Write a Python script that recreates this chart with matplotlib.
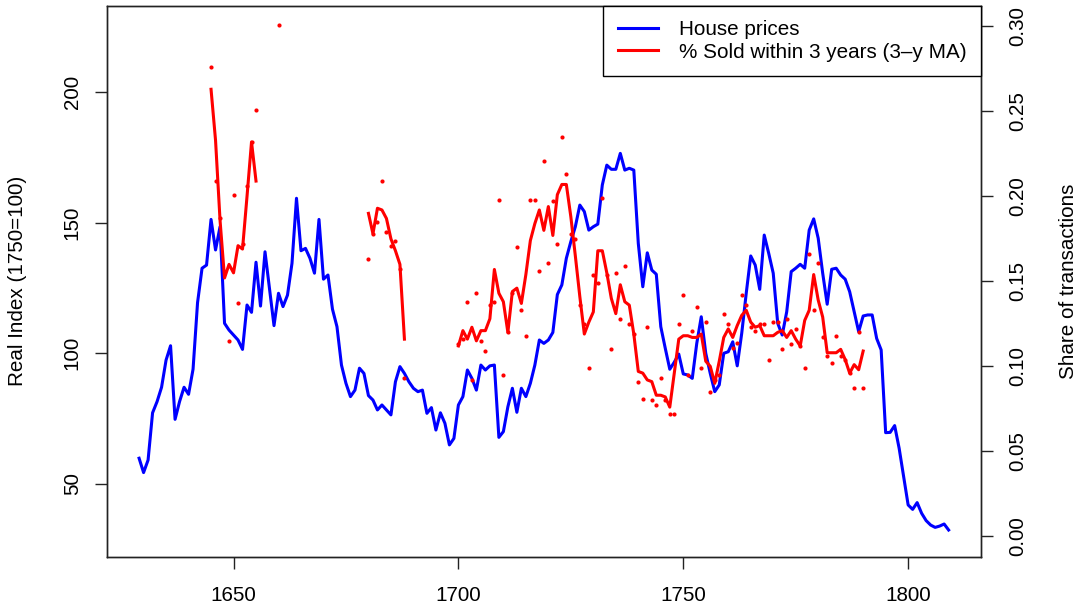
import numpy as np
import matplotlib
matplotlib.use("Agg")
import matplotlib.pyplot as plt

plt.rcParams['font.family'] = ['Liberation Sans', 'DejaVu Sans']

# ---------------- data ----------------
price_first_year = 1629
house_prices = [
    59.8, 54.3, 59.1, 77.2, 81.5, 87.0, 97.4, 102.9, 74.7, 81.5, 87.0,          # 1629-1639
    84.3, 93.9, 119.4, 132.6, 133.8, 151.3, 139.6, 148.5, 111.5, 108.9,         # 1640-1649
    107.0, 105.1, 101.5, 118.5, 115.7, 134.9, 118.1, 138.9, 124.6, 110.6,       # 1650-1659
    123.0, 117.9, 122.3, 134.5, 159.4, 139.3, 140.2, 136.4, 130.7, 151.3,       # 1660-1669
    128.4, 130.0, 116.9, 110.2, 95.5, 88.5, 83.4, 85.9, 94.3, 92.3,             # 1670-1679
    83.8, 82.1, 78.3, 80.2, 78.3, 76.4, 89.1, 94.9, 92.3, 89.1,                 # 1680-1689
    86.6, 85.3, 85.9, 77.0, 79.2, 70.6, 77.2, 73.2, 64.9, 67.4,                 # 1690-1699
    80.2, 83.4, 93.6, 90.4, 85.9, 95.5, 93.6, 95.2, 95.5, 67.8,                 # 1700-1709
    70.0, 79.5, 86.6, 77.4, 86.6, 83.4, 88.5, 95.5, 105.1, 103.8,               # 1710-1719
    105.1, 108.0, 122.5, 126.2, 136.4, 142.8, 148.5, 156.8, 154.3, 147.2,       # 1720-1729
    148.5, 149.5, 164.5, 172.1, 170.5, 170.5, 176.6, 170.2, 170.9, 170.2,       # 1730-1739
    142.1, 125.5, 138.5, 131.9, 130.3, 110.2, 101.9, 93.9, 96.6, 99.7,          # 1740-1749
    92.1, 91.7, 90.4, 103.8, 114.0, 100.0, 92.3, 85.3, 87.9, 100.0,             # 1750-1759
    100.6, 104.4, 95.2, 107.7, 123.0, 137.3, 133.8, 124.5, 145.3, 138.3,        # 1760-1769
    130.7, 111.5, 107.0, 115.9, 131.3, 132.6, 134.1, 132.6, 147.2, 151.5,       # 1770-1779
    144.1, 130.7, 118.8, 132.2, 132.6, 130.0, 128.4, 123.6, 115.9, 108.3,       # 1780-1789
    114.3, 114.7, 114.7, 105.7, 101.3, 69.6, 69.7, 72.3, 63.6, 52.7,            # 1790-1799
    41.9, 40.2, 42.8, 38.7, 35.9, 34.2, 33.3, 33.8, 34.6, 32.3,                 # 1800-1809
]

# 3-year moving average of share sold within 3 years (three separate runs)
ma_start_a = 1645
ma_run_a = [0.263, 0.233, 0.186, 0.152, 0.160, 0.155, 0.171, 0.169, 0.200, 0.232, 0.209]
ma_start_b = 1680
ma_run_b = [0.190, 0.178, 0.193, 0.192, 0.187, 0.175, 0.168, 0.160, 0.116]
ma_start_c = 1700
ma_run_c = [
    0.112, 0.121, 0.116, 0.123, 0.115, 0.121, 0.121, 0.128, 0.157, 0.143,       # 1700-1709
    0.138, 0.120, 0.144, 0.146, 0.137, 0.154, 0.174, 0.184, 0.192, 0.180,       # 1710-1719
    0.194, 0.177, 0.201, 0.207, 0.207, 0.188, 0.165, 0.141, 0.119, 0.126,       # 1720-1729
    0.132, 0.168, 0.168, 0.155, 0.140, 0.131, 0.148, 0.138, 0.136, 0.119,       # 1730-1739
    0.097, 0.096, 0.092, 0.091, 0.083, 0.083, 0.082, 0.076, 0.096, 0.116,       # 1740-1749
    0.118, 0.118, 0.117, 0.117, 0.119, 0.103, 0.100, 0.090, 0.103, 0.117,       # 1750-1759
    0.122, 0.117, 0.124, 0.130, 0.133, 0.126, 0.123, 0.124, 0.118, 0.118,       # 1760-1769
    0.118, 0.120, 0.121, 0.117, 0.121, 0.116, 0.112, 0.127, 0.133, 0.154,       # 1770-1779
    0.139, 0.129, 0.108, 0.108, 0.108, 0.110, 0.104, 0.096, 0.101, 0.098,       # 1780-1789
    0.109,                                                                      # 1790
]

# annual raw shares (dots)
share_years = [
    1645, 1646, 1647, 1649, 1650, 1651, 1652, 1653, 1654, 1655, 1660,
    1680, 1681, 1682, 1683, 1684, 1685, 1686, 1687, 1688,
    1700, 1701, 1702, 1703, 1704, 1705, 1706, 1707, 1708, 1709,
    1710, 1711, 1712, 1713, 1714, 1715, 1716, 1717, 1718, 1719,
    1720, 1721, 1722, 1723, 1724, 1725, 1726, 1727, 1728, 1729,
    1730, 1731, 1732, 1733, 1734, 1735, 1736, 1737, 1738, 1739,
    1740, 1741, 1742, 1743, 1744, 1745, 1746, 1747, 1748, 1749,
    1750, 1751, 1752, 1753, 1754, 1755, 1756, 1757, 1758, 1759,
    1760, 1761, 1762, 1763, 1764, 1765, 1766, 1767, 1768, 1769,
    1770, 1771, 1772, 1773, 1774, 1775, 1776, 1777, 1778, 1779,
    1780, 1781, 1782, 1783, 1784, 1785, 1786, 1787, 1788, 1789, 1790,
]
share_values = [
    0.276, 0.209, 0.187, 0.115, 0.201, 0.137, 0.172, 0.206, 0.232, 0.251, 0.301,
    0.163, 0.178, 0.185, 0.209, 0.179, 0.171, 0.174, 0.157, 0.093,
    0.113, 0.116, 0.138, 0.092, 0.143, 0.115, 0.109, 0.136, 0.138, 0.198,
    0.095, 0.120, 0.143, 0.170, 0.133, 0.118, 0.198, 0.198, 0.156, 0.221,
    0.161, 0.197, 0.172, 0.235, 0.213, 0.178, 0.175, 0.136, 0.125, 0.099,
    0.154, 0.149, 0.199, 0.154, 0.110, 0.155, 0.128, 0.159, 0.125, 0.119,
    0.091, 0.081, 0.123, 0.080, 0.077, 0.093, 0.080, 0.072, 0.072, 0.125,
    0.142, 0.095, 0.121, 0.135, 0.099, 0.126, 0.085, 0.092, 0.095, 0.131,
    0.125, 0.111, 0.114, 0.142, 0.136, 0.123, 0.121, 0.125, 0.125, 0.104,
    0.126, 0.126, 0.110, 0.128, 0.113, 0.122, 0.112, 0.099, 0.166, 0.133,
    0.161, 0.117, 0.106, 0.102, 0.118, 0.106, 0.104, 0.096, 0.087, 0.120, 0.087,
]

x_ticks = [1650, 1700, 1750, 1800]
left_ticks = [50, 100, 150, 200]
right_ticks = [0.00, 0.05, 0.10, 0.15, 0.20, 0.25, 0.30]
legend_labels = ["House prices", "% Sold within 3 years (3\u2013y MA)"]
left_label = "Real Index (1750=100)"
right_label = "Share of transactions"

# ---------------- figure ----------------
W, H = 1081, 608
DPI = 100
FS = 14.9
fig = plt.figure(figsize=(W / DPI, H / DPI), dpi=DPI)
ax = fig.add_axes([106.7 / W, 1 - 556.7 / H, (981 - 106.7) / W, (556.7 - 6) / H])
ax2 = ax.twinx()

price_years = np.arange(price_first_year, price_first_year + len(house_prices))
ax.plot(price_years, house_prices, color="#0000FF", lw=2.2, solid_joinstyle="round",
        label=legend_labels[0])

first = True
for start, run in [(ma_start_a, ma_run_a), (ma_start_b, ma_run_b), (ma_start_c, ma_run_c)]:
    yrs = np.arange(start, start + len(run))
    ax2.plot(yrs, run, color="#FF0000", lw=2.2, solid_joinstyle="round",
             label=legend_labels[1] if first else None)
    first = False
ax2.plot(share_years, share_values, linestyle="none", marker="o", markersize=3.0,
         markeredgewidth=0, color="#FF0000")

ax.set_xlim(1621.8, 1816.2)
ax.set_ylim(22.07, 233.07)
ax2.set_ylim(-0.012, 0.312)

ax.set_xticks(x_ticks)
ax.set_xticklabels([str(t) for t in x_ticks])
ax.set_yticks(left_ticks)
ax.set_yticklabels([str(t) for t in left_ticks], rotation=90, va="center")
ax2.set_yticks(right_ticks)
ax2.set_yticklabels([f"{t:.2f}" for t in right_ticks], rotation=90, va="center")

tick_len = 8.9
ax.tick_params(axis="x", direction="out", length=tick_len, width=1.0, pad=12.5,
               labelsize=FS, colors="#222222", labelcolor="black")
ax.tick_params(axis="y", direction="out", length=tick_len, width=1.0, pad=9,
               labelsize=FS, colors="#222222", labelcolor="black")
ax2.tick_params(axis="y", direction="out", length=tick_len, width=1.0, pad=10.8,
                labelsize=FS, colors="#222222", labelcolor="black")
for a in (ax, ax2):
    for s in a.spines.values():
        s.set_linewidth(1.0)
        s.set_color("#222222")

fig.text(18 / W, 1 - 281 / H, left_label, rotation=90, ha="center", va="center", fontsize=FS)
fig.text(1069 / W, 1 - 281 / H, right_label, rotation=90, ha="center", va="center", fontsize=FS)

h1, l1 = ax.get_legend_handles_labels()
h2, l2 = ax2.get_legend_handles_labels()
leg = ax2.legend(h1 + h2, l1 + l2, loc="upper right", bbox_to_anchor=(1, 1),
                 borderaxespad=0, fancybox=False, framealpha=1, edgecolor="black",
                 fontsize=FS, handlelength=1.95, handletextpad=1.0, borderpad=0.7,
                 labelspacing=0.15)
leg.get_frame().set_linewidth(1.0)

fig.savefig("out.png", dpi=DPI)
